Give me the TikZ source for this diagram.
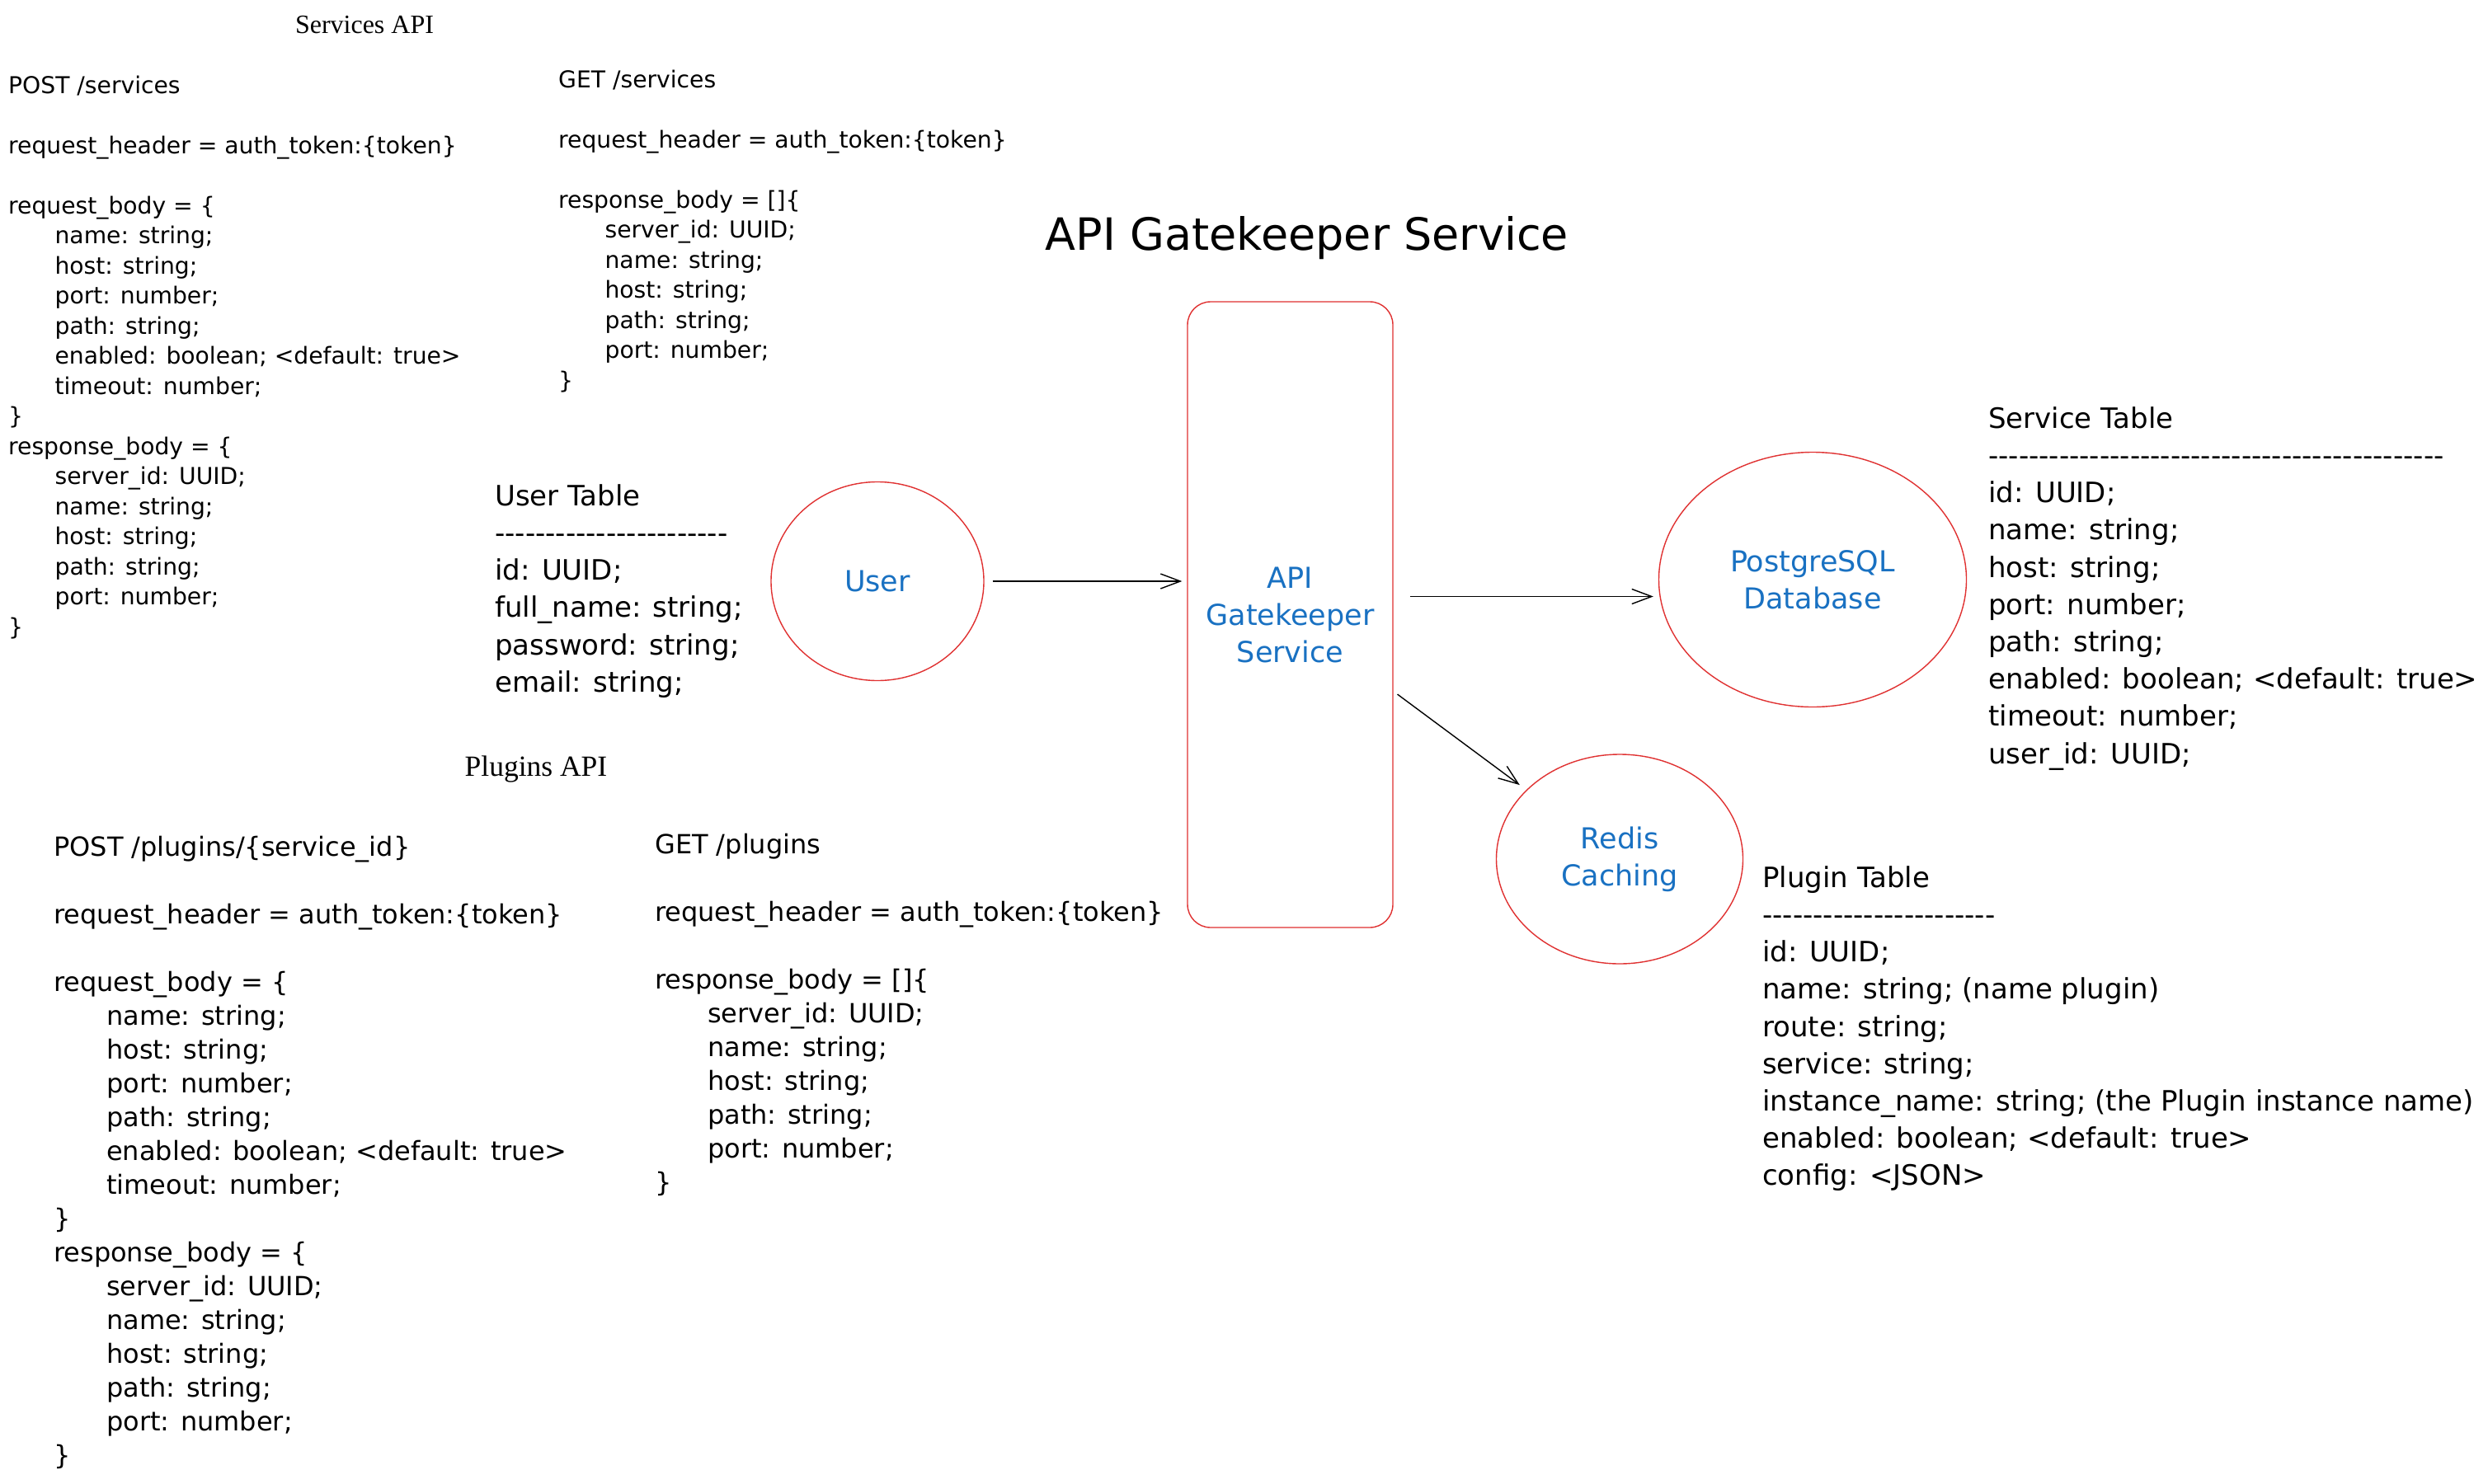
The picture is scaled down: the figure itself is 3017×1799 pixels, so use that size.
\documentclass[tikz,border=0pt]{standalone}
\usepackage{fontspec}
\setmainfont{DejaVu Sans}
\newfontfamily\serifapi{Liberation Serif}
\usetikzlibrary{arrows.meta}
\usetikzlibrary{shapes.geometric}
\definecolor{inkblue}{HTML}{1971C2}
\definecolor{inkred}{HTML}{E03131}
\newcommand{\ind}{\hspace*{2em}}
\newcommand{\dashrow}[1]{\foreach \k in {1,...,#1}{\mbox{-}}}

\begin{document}
\begin{tikzpicture}[x=1pt,y=-1pt,
  code/.style={anchor=north west,inner sep=0pt,align=left,font=\fontsize{28.2}{36.5}\selectfont},
  codebig/.style={anchor=north west,inner sep=0pt,align=left,font=\fontsize{32}{41}\selectfont},
  tbl/.style={anchor=north west,inner sep=0pt,align=left,font=\fontsize{34}{45.2}\selectfont},
  bubble/.style={ellipse,draw=inkred,line width=1.4pt,inner sep=0pt,text=inkblue,align=center,font=\fontsize{35}{45}\selectfont},
  arr/.style={line width=1.4pt,-{Straight Barb[length=24pt,width=18pt]}}]

\fill[white] (0,0) rectangle (3017,1799);
\useasboundingbox (0,0) rectangle (3017,1799);

% headings
\node[anchor=base,inner sep=0pt,font=\serifapi\fontsize{32}{38}\selectfont] (svcapi) at (442,40) {Services API};
\node[anchor=base,inner sep=0pt,font=\serifapi\fontsize{35.5}{42}\selectfont] (plgapi) at (650,941) {Plugins API};
\node[anchor=base,inner sep=0pt,font=\fontsize{54}{60}\selectfont] (title) at (1585,303) {API Gatekeeper Service};

% services api
\node[code] (svcpost) at (10,87.5) {\strut POST /services\\
\\
request\_header = auth\_token:\{token\}\\
\\
request\_body = \{\\
\ind name: string;\\
\ind host: string;\\
\ind port: number;\\
\ind path: string;\\
\ind enabled: boolean; <default: true>\\
\ind timeout: number;\\
\}\\
response\_body = \{\\
\ind server\_id: UUID;\\
\ind name: string;\\
\ind host: string;\\
\ind path: string;\\
\ind port: number;\\
\}};
\node[code] (svcget) at (677,80.5) {\strut GET /services\\
\\
request\_header = auth\_token:\{token\}\\
\\
response\_body = []\{\\
\ind server\_id: UUID;\\
\ind name: string;\\
\ind host: string;\\
\ind path: string;\\
\ind port: number;\\
\}};

% plugins api
\node[codebig] (plgpost) at (65,1009.3) {\strut POST /plugins/\{service\_id\}\\
\\
request\_header = auth\_token:\{token\}\\
\\
request\_body = \{\\
\ind name: string;\\
\ind host: string;\\
\ind port: number;\\
\ind path: string;\\
\ind enabled: boolean; <default: true>\\
\ind timeout: number;\\
\}\\
response\_body = \{\\
\ind server\_id: UUID;\\
\ind name: string;\\
\ind host: string;\\
\ind path: string;\\
\ind port: number;\\
\}};
\node[codebig] (plgget) at (794,1006.3) {\strut GET /plugins\\
\\
request\_header = auth\_token:\{token\}\\
\\
response\_body = []\{\\
\ind server\_id: UUID;\\
\ind name: string;\\
\ind host: string;\\
\ind path: string;\\
\ind port: number;\\
\}};

% tables
\node[tbl] (usertbl) at (600,581.4) {\strut User Table\\
\dashrow{23}\\
id: UUID;\\
full\_name: string;\\
password: string;\\
email: string;};
\node[tbl] (servicetbl) at (2411,487.4) {\strut Service Table\\
\dashrow{45}\\
id: UUID;\\
name: string;\\
host: string;\\
port: number;\\
path: string;\\
enabled: boolean; <default: true>\\
timeout: number;\\
user\_id: UUID;};
\node[tbl] (plugintbl) at (2137,1044.4) {\strut Plugin Table\\
\dashrow{23}\\
id: UUID;\\
name: string; (name plugin)\\
route: string;\\
service: string;\\
instance\_name: string; (the Plugin instance name)\\
enabled: boolean; <default: true>\\
config: <JSON>};

% components
\node[bubble,minimum width=258pt,minimum height=241pt] (user) at (1064,705) {User};
\node[draw=inkred,line width=1.4pt,rounded corners=28pt,minimum width=249pt,minimum height=759pt,
  text=inkblue,align=center,font=\fontsize{35}{45}\selectfont] (gate) at (1564.5,745.5) {API\\Gatekeeper\\Service};
\node[bubble,minimum width=373pt,minimum height=309pt] (pg) at (2198,703) {PostgreSQL\\Database};
\node[bubble,minimum width=299pt,minimum height=254pt] (redis) at (1964,1042) {Redis\\Caching};

\draw[arr,shorten <=10pt,shorten >=6pt] (user.east) -- (user.east -| gate.west);
\draw[arr,shorten <=20pt,shorten >=6pt] ([yshift=22pt]gate.east) -- ([yshift=22pt]gate.east -| pg.west);
\draw[arr,shorten <=6pt,shorten >=10pt] ([yshift=-93pt]gate.east) -- (redis);

\end{tikzpicture}
\end{document}
